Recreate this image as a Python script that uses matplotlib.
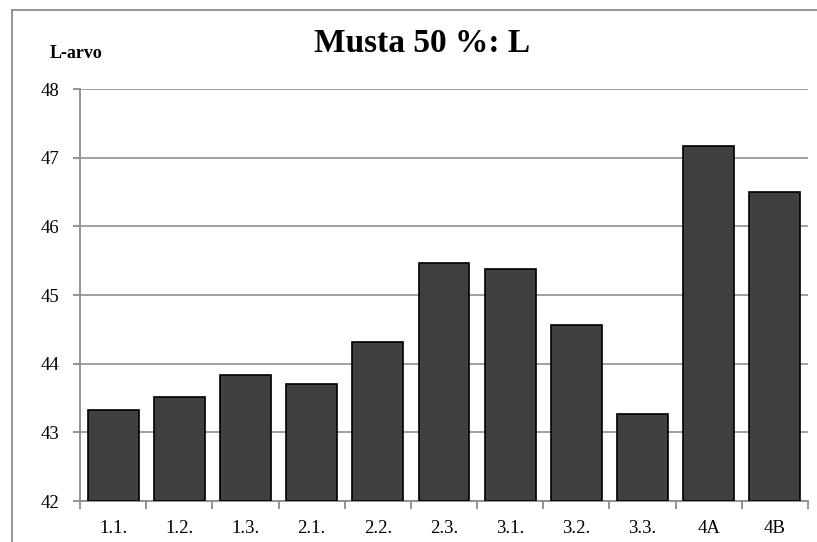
import matplotlib
matplotlib.use("Agg")
import matplotlib.pyplot as plt
from matplotlib.lines import Line2D

categories = ["1.1.", "1.2.", "1.3.", "2.1.", "2.2.", "2.3.", "3.1.", "3.2.", "3.3.", "4A", "4B"]
values = [43.33, 43.52, 43.84, 43.71, 44.32, 45.47, 45.38, 44.56, 43.27, 47.17, 46.50]
y_ticks = [42, 43, 44, 45, 46, 47, 48]

plt.rcParams['font.family'] = ['Liberation Serif', 'DejaVu Serif']

W, H = 817, 542
fig = plt.figure(figsize=(W / 100, H / 100), dpi=100)

# outer chart frame: top and left edges
frame_kw = dict(transform=fig.transFigure, color='#8c8c8c', linewidth=1.3)
fig.add_artist(Line2D([12 / W, 1.01], [1 - 10 / H, 1 - 10 / H], **frame_kw))
fig.add_artist(Line2D([12 / W, 12 / W], [1 - 10 / H, -0.01], **frame_kw))

ax = fig.add_axes([80 / W, (H - 501) / H, (808 - 80) / W, (501 - 89) / H])

x = range(len(categories))
ax.bar(x, [v - 42 for v in values], bottom=42, width=0.77,
       color='#404040', edgecolor='black', linewidth=1.2, zorder=3)

ax.set_xlim(-0.5, len(categories) - 0.5)
ax.set_ylim(42, 48)
ax.set_yticks(y_ticks)
ax.set_yticklabels([str(t) for t in y_ticks], fontsize=13.5)
ax.set_xticks(x)
ax.set_xticklabels(categories, fontsize=13.5)
ax.set_xticks([i - 0.5 for i in range(len(categories) + 1)], minor=True)
ax.tick_params(axis='x', which='major', length=0, pad=14)
ax.tick_params(axis='x', which='minor', length=6, color='#8c8c8c', width=1.3)
ax.tick_params(axis='y', length=5, color='#8c8c8c', width=1.3, pad=10)

ax.yaxis.grid(True, color='#999999', linewidth=1.3, zorder=0)
ax.set_axisbelow(True)
for side in ['top', 'right']:
    ax.spines[side].set_visible(False)
for side in ['left', 'bottom']:
    ax.spines[side].set_color('#8c8c8c')
    ax.spines[side].set_linewidth(1.3)

fig.text(422 / W, 1 - 44 / H, "Musta 50 %: L", ha='center', va='center',
         fontsize=24, fontweight='bold')
fig.text(50 / W, 1 - 53 / H, "L-arvo", ha='left', va='center',
         fontsize=13, fontweight='bold')

fig.savefig("out.png", dpi=100)
